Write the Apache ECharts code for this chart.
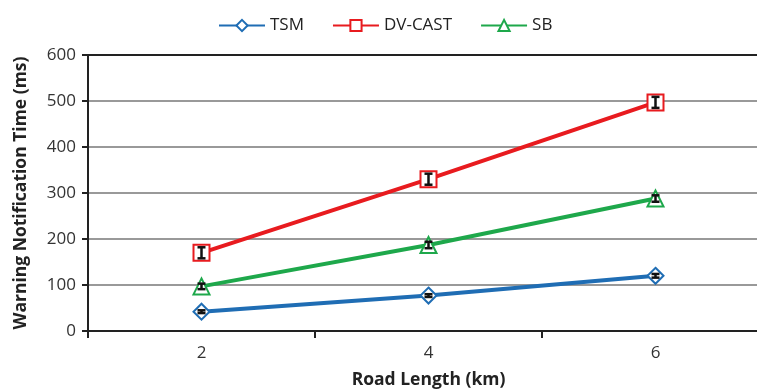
<!DOCTYPE html>
<html>
<head>
<meta charset="utf-8">
<script src="https://cdn.jsdelivr.net/npm/echarts@6/dist/echarts.min.js"></script>
<style>
  html, body { margin: 0; padding: 0; background: #fff; }
  #chart { width: 757px; height: 391px; }
</style>
</head>
<body>
<div id="chart"></div>
<script>
// data
const roadLength = ['2', '4', '6']
const tsm = [42, 77, 120]
const dvCast = [170, 330, 497]
const sb = [97, 187, 288]
// half-width of the error bars
const tsmErr = [3, 3, 4]
const dvCastErr = [12, 12, 12]
const sbErr = [6, 7, 7]

const colors = ['#1f6db4', '#e81b1f', '#1ea84b']

const chart = echarts.init(document.getElementById('chart'))

// error bars drawn as a custom series
function errSeries(values, errs) {
    return {
        type: 'custom',
        silent: true,
        z: 5,
        data: values.map((v, i) => [i, v - errs[i], v + errs[i]]),
        renderItem(params, api) {
            const lo = api.coord([api.value(0), api.value(1)])
            const hi = api.coord([api.value(0), api.value(2)])
            const w = 4
            const style = { stroke: '#111', lineWidth: 2.5 }
            return {
                type: 'group',
                children: [
                    { type: 'line', shape: { x1: lo[0], y1: lo[1], x2: hi[0], y2: hi[1] }, style },
                    { type: 'line', shape: { x1: lo[0] - w, y1: lo[1], x2: lo[0] + w, y2: lo[1] }, style },
                    { type: 'line', shape: { x1: hi[0] - w, y1: hi[1], x2: hi[0] + w, y2: hi[1] }, style }
                ]
            }
        }
    }
}

function lineSeries(name, values, symbol, color) {
    return {
        name: name,
        type: 'line',
        data: values,
        symbol: symbol,
        symbolSize: 16,
        showAllSymbol: true,
        itemStyle: { color: color, borderWidth: 2 },
        lineStyle: { color: color, width: 4 }
    }
}

const option = {
    animation: false,
    textStyle: { fontFamily: '"Open Sans", "Noto Sans", sans-serif' },
    legend: {
        top: 12,
        left: 213,
        itemWidth: 46,
        itemHeight: 14,
        itemGap: 28,
        textStyle: { fontSize: 17, color: '#222' },
        data: ['TSM', 'DV-CAST', 'SB']
    },
    grid: {
        left: 88, width: 681, top: 55, bottom: 60,
        containLabel: false,
        outerBoundsMode: 'none'
    },
    xAxis: {
        type: 'category',
        data: roadLength,
        boundaryGap: true,
        name: 'Road Length (km)',
        nameLocation: 'middle',
        nameGap: 40,
        nameTextStyle: { fontSize: 17.5, fontWeight: 'bold', color: '#222' },
        axisLine: { lineStyle: { color: '#222', width: 2 } },
        axisTick: { show: true, length: 7, inside: false, lineStyle: { color: '#222', width: 2 } },
        axisLabel: { fontSize: 17, color: '#333', margin: 14 }
    },
    yAxis: {
        type: 'value',
        min: 0,
        max: 600,
        interval: 100,
        name: 'Warning Notification Time (ms)',
        nameLocation: 'middle',
        nameGap: 58,
        nameTextStyle: { fontSize: 17.5, fontWeight: 'bold', color: '#222' },
        axisLine: { show: true, lineStyle: { color: '#222', width: 2 } },
        axisTick: { show: true, length: 6, lineStyle: { color: '#222', width: 2 } },
        axisLabel: { fontSize: 17, color: '#333', margin: 12 },
        splitLine: {
            lineStyle: {
                color: ['#999', '#999', '#999', '#999', '#999', '#999', '#222'],
                width: 2
            }
        }
    },
    series: [
        lineSeries('TSM', tsm, 'emptyDiamond', colors[0]),
        lineSeries('DV-CAST', dvCast, 'emptyRect', colors[1]),
        lineSeries('SB', sb, 'emptyTriangle', colors[2]),
        errSeries(tsm, tsmErr),
        errSeries(dvCast, dvCastErr),
        errSeries(sb, sbErr)
    ]
}

chart.setOption(option)
</script>
</body>
</html>
